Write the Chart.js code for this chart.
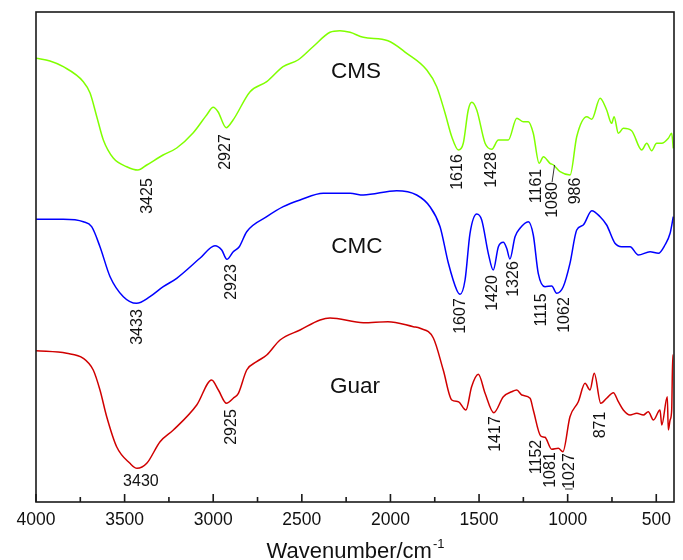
<!DOCTYPE html>
<html>
<head>
<meta charset="utf-8">
<script src="https://cdn.jsdelivr.net/npm/chart.js@4.4.1/dist/chart.umd.min.js"></script>
<style>
  html, body { margin: 0; padding: 0; background: #fff; }
  #c { display: block; }
</style>
</head>
<body>
<canvas id="c" width="683" height="560"></canvas>
<script>
// x axis ticks (wavenumber, cm-1)
const xTicks = [4000, 3500, 3000, 2500, 2000, 1500, 1000, 500];
const xMinor = [3750, 3250, 2750, 2250, 1750, 1250, 750];

// CMS spectrum (offset transmittance, a.u.)
const cmsWn = [4000, 3921, 3846, 3733, 3695, 3657, 3620, 3564, 3488, 3425, 3375, 3283, 3206, 3114, 3037, 3000,
  2973, 2927, 2888, 2792, 2698, 2606, 2522, 2437, 2341, 2285, 2228, 2153, 2014, 1908, 1795, 1739, 1692, 1654,
  1616, 1589, 1561, 1541, 1513, 1466, 1428, 1391, 1335, 1287, 1250, 1222, 1194, 1161, 1137, 1100, 1080, 1043,
  986, 949, 892, 864, 817, 780, 752, 738, 714, 686, 639, 582, 554, 526, 498, 469, 432, 413, 404];
const cmsT = [443.7, 441, 435.3, 420.3, 409, 385.3, 362, 344, 335.3, 332, 337, 347, 354, 369, 387, 394.7,
  390.3, 374.3, 382, 410.3, 420.3, 435.3, 442, 455.3, 469.7, 471.3, 469.7, 464.7, 461.3, 448.7, 432, 415.3, 389, 365.3,
  352, 358.7, 392, 399.7, 392, 358.7, 352.7, 362, 362, 383.7, 380.3, 380.3, 368.7, 338.7, 345.3, 338.7, 337, 330.3,
  327, 365.3, 385.3, 382.7, 403.7, 392, 378.7, 385.3, 368.7, 373.7, 371.3, 352, 358.7, 351.3, 358.7, 358.7, 363.7, 368.7, 353.7];

// CMC spectrum
const cmcWn = [4000, 3846, 3733, 3686, 3639, 3582, 3507, 3433, 3357, 3282, 3206, 3075, 2990, 2952, 2923, 2887,
  2853, 2811, 2698, 2605, 2510, 2379, 2228, 2153, 1965, 1852, 1777, 1720, 1673, 1626, 1607, 1579, 1551, 1513,
  1485, 1448, 1420, 1391, 1363, 1344, 1326, 1297, 1269, 1222, 1194, 1166, 1128, 1090, 1062, 1025, 987, 949,
  912, 864, 817, 780, 733, 695, 648, 601, 535, 488, 451, 422, 404];
const cmcT = [282.7, 282.7, 280.3, 275.3, 255.3, 225.3, 205.3, 198.7, 205.3, 215.3, 223.7, 243.7, 256.3, 252, 242.7, 250.3,
  255.3, 270.3, 285.3, 295.3, 302, 308.7, 308.7, 307, 311.3, 307, 295.3, 275.3, 238.7, 212, 207.7, 222, 268.7, 288,
  282, 248.7, 232, 255.3, 259.7, 253.7, 243, 265.3, 273.7, 280.3, 267, 228.7, 215.3, 216, 208.7, 215.3, 238.7, 272,
  277, 291.3, 285.3, 277, 258.7, 255.3, 255.3, 247, 250.3, 248.7, 257, 268.7, 285.3];

// Guar spectrum
const guarWn = [4000, 3827, 3733, 3677, 3639, 3601, 3545, 3470, 3430, 3375, 3300, 3225, 3093, 3009, 2971, 2925,
  2887, 2858, 2811, 2755, 2698, 2623, 2510, 2397, 2341, 2153, 2014, 1871, 1833, 1758, 1702, 1654, 1617, 1574,
  1542, 1504, 1466, 1417, 1363, 1316, 1287, 1259, 1212, 1194, 1152, 1128, 1090, 1053, 1027, 987, 940, 902,
  874, 850, 813, 780, 742, 714, 686, 648, 610, 573, 545, 516, 479, 469, 438, 432, 422, 413, 407, 404];
const guarT = [151.3, 148.7, 143.7, 132, 112, 85.3, 55.3, 38.7, 33.7, 38.7, 60.3, 72, 97, 122, 112, 98.7,
  103.7, 108.7, 132, 140.3, 147, 162, 172, 182, 184, 179.3, 180.3, 175.3, 173.7, 164, 132, 102, 100.3, 92,
  115.3, 127.7, 108.7, 89.3, 105.3, 110.3, 112, 107, 103.7, 92, 66, 64.7, 52.7, 53.7, 50.3, 85.3, 100.3, 118.7,
  112, 128.7, 98.7, 103.7, 109.3, 100.3, 92, 87, 88.7, 87, 90.3, 82, 92, 77, 105.3, 72, 82, 92, 147, 147];

// peak labels: [text, wavenumber, level] (rotated)
const peakLabels = [
  ['3425', 3368, 306], ['2927', 2928, 350], ['1616', 1619, 330], ['1428', 1427, 332],
  ['1161', 1178, 316], ['1080', 1083, 302], ['986', 953, 311],
  ['3433', 3424, 175], ['2923', 2894, 220], ['1607', 1602, 186], ['1420', 1421, 209],
  ['1326', 1303, 223], ['1115', 1145, 192], ['1062', 1015, 187],
  ['2925', 2894, 75], ['1417', 1404, 68], ['1152', 1173, 45], ['1081', 1094, 32],
  ['1027', 987, 31], ['871', 817, 77]
];
// horizontal labels
const flatLabels = [['3430', 3408, 20]];
const sampleNames = [['CMS', 2194, 430], ['CMC', 2189, 255], ['Guar', 2200, 115]];

const FONT = "'Liberation Sans', Arial, sans-serif";

const toPts = (wn, t) => wn.map((x, i) => ({ x, y: t[i] }));

// frame, inward ticks, labels, axis title
const decor = {
  id: 'decor',
  afterDatasetsDraw(chart) {
    const { ctx, chartArea: a, scales: { x, y } } = chart;
    ctx.save();
    ctx.strokeStyle = '#1a1a1a';
    ctx.lineWidth = 1.6;
    ctx.strokeRect(a.left, a.top, a.right - a.left, a.bottom - a.top);
    ctx.beginPath();
    xTicks.forEach(v => { const px = x.getPixelForValue(v); ctx.moveTo(px, a.bottom); ctx.lineTo(px, a.bottom - 8); });
    xMinor.forEach(v => { const px = x.getPixelForValue(v); ctx.moveTo(px, a.bottom); ctx.lineTo(px, a.bottom - 5); });
    ctx.stroke();

    ctx.fillStyle = '#111';
    ctx.textAlign = 'center';
    ctx.textBaseline = 'middle';
    ctx.font = '16px ' + FONT;
    peakLabels.forEach(([t, wn, lv]) => {
      ctx.save();
      ctx.translate(x.getPixelForValue(wn), y.getPixelForValue(lv));
      ctx.rotate(-Math.PI / 2);
      ctx.fillText(t, 0, 0);
      ctx.restore();
    });
    flatLabels.forEach(([t, wn, lv]) => ctx.fillText(t, x.getPixelForValue(wn), y.getPixelForValue(lv)));

    // small leader lines
    ctx.strokeStyle = '#333';
    ctx.lineWidth = 1;
    ctx.beginPath();
    ctx.moveTo(x.getPixelForValue(1088), y.getPixelForValue(320));
    ctx.lineTo(x.getPixelForValue(1074), y.getPixelForValue(337));
    ctx.moveTo(x.getPixelForValue(1015), y.getPixelForValue(13));
    ctx.lineTo(x.getPixelForValue(972), y.getPixelForValue(13));
    ctx.stroke();

    ctx.font = '22.5px ' + FONT;
    sampleNames.forEach(([t, wn, lv]) => ctx.fillText(t, x.getPixelForValue(wn), y.getPixelForValue(lv)));

    // axis title with superscript
    const main = 'Wavenumber/cm', sup = '-1';
    ctx.font = '22px ' + FONT;
    const w1 = ctx.measureText(main).width;
    ctx.font = '13px ' + FONT;
    const w2 = ctx.measureText(sup).width;
    const cx = (a.left + a.right) / 2, x0 = cx - (w1 + w2) / 2;
    ctx.textAlign = 'left';
    ctx.textBaseline = 'alphabetic';
    ctx.font = '22px ' + FONT;
    ctx.fillText(main, x0, 558);
    ctx.font = '13px ' + FONT;
    ctx.fillText(sup, x0 + w1 + 1, 548);
    ctx.restore();
  }
};

const line = (data, color) => ({
  data, borderColor: color, borderWidth: 1.5, pointRadius: 0,
  cubicInterpolationMode: 'monotone', fill: false
});

new Chart(document.getElementById('c').getContext('2d'), {
  type: 'line',
  data: {
    datasets: [
      line(toPts(cmsWn, cmsT), '#80ff00'),
      line(toPts(cmcWn, cmcT), '#0000ff'),
      line(toPts(guarWn, guarT), '#d00000')
    ]
  },
  options: {
    responsive: false,
    animation: false,
    layout: { padding: { left: 36, top: 12, right: 9, bottom: 0 } },
    scales: {
      x: {
        type: 'linear', reverse: true, min: 400, max: 4000,
        grid: { display: false, drawTicks: false },
        border: { display: false },
        ticks: { color: '#111', font: { size: 17.5, family: FONT }, padding: 8, maxRotation: 0,
                 callback: v => String(v) },
        afterBuildTicks: s => { s.ticks = xTicks.map(v => ({ value: v })); },
        afterFit: s => { s.height = 58; }
      },
      y: { display: false, min: 0, max: 490 }
    },
    plugins: { legend: { display: false }, tooltip: { enabled: false } }
  },
  plugins: [decor]
});
</script>
</body>
</html>
